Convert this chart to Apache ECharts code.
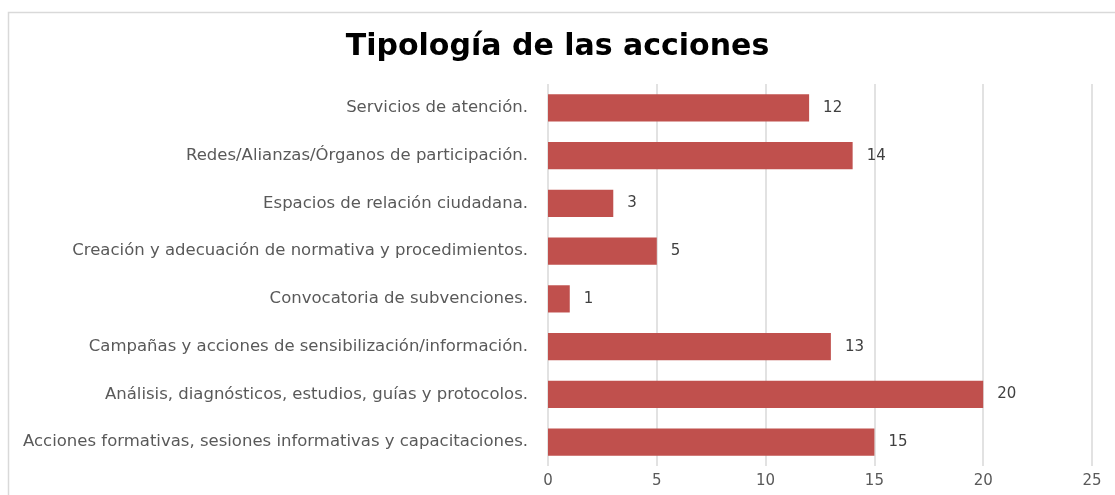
<!DOCTYPE html>
<html>
<head>
<meta charset="utf-8">
<script src="https://cdn.jsdelivr.net/npm/echarts@6/dist/echarts.min.js"></script>
<style>
html,body{margin:0;padding:0;background:#fff;}
#chart{width:1115px;height:495px;}
</style>
</head>
<body>
<div id="chart"></div>
<script>
const categories = [
  "Acciones formativas, sesiones informativas y capacitaciones.",
  "Análisis, diagnósticos, estudios, guías y protocolos.",
  "Campañas y acciones de sensibilización/información.",
  "Convocatoria de subvenciones.",
  "Creación y adecuación de normativa y procedimientos.",
  "Espacios de relación ciudadana.",
  "Redes/Alianzas/Órganos de participación.",
  "Servicios de atención."
];
const values = [15, 20, 13, 1, 5, 3, 14, 12];
const xTicks = [0, 5, 10, 15, 20, 25];
const titleText = "Tipología de las acciones";

const chart = echarts.init(document.getElementById('chart'));
chart.setOption({
  animation: false,
  backgroundColor: '#ffffff',
  title: {
    text: titleText,
    left: 'center',
    top: 27,
    textStyle: { fontFamily: 'DejaVu Sans', fontWeight: 'bold', fontSize: 30, color: '#000' }
  },
  graphic: [{
    type: 'rect',
    shape: { x: 8.5, y: 12.5, width: 1120, height: 500 },
    style: { fill: 'none', stroke: '#d9d9d9', lineWidth: 1.5 },
    silent: true
  }],
  grid: { left: 548, right: 23, top: 84, bottom: 29, containLabel: false },
  xAxis: {
    type: 'value',
    min: xTicks[0],
    max: xTicks[xTicks.length - 1],
    interval: xTicks[1] - xTicks[0],
    axisLine: { show: false },
    axisTick: { show: false },
    splitLine: { show: true, lineStyle: { color: '#d9d9d9', width: 1.5 } },
    axisLabel: { fontFamily: 'DejaVu Sans', fontSize: 15, color: '#595959', margin: 8 }
  },
  yAxis: {
    type: 'category',
    data: categories,
    axisLine: { show: false },
    axisTick: { show: false },
    axisLabel: { fontFamily: 'DejaVu Sans', fontSize: 16.5, color: '#595959', margin: 20 }
  },
  series: [{
    type: 'bar',
    data: values,
    barCategoryGap: '43%',
    itemStyle: { color: '#C0504D' },
    label: {
      show: true,
      position: 'right',
      distance: 14,
      fontFamily: 'DejaVu Sans',
      fontSize: 15,
      color: '#404040'
    }
  }]
});
</script>
</body>
</html>
